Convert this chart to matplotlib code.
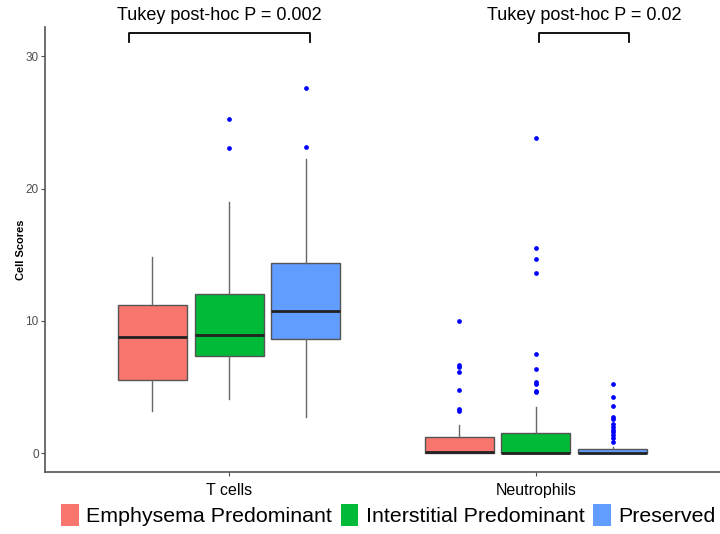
import matplotlib.pyplot as plt
from matplotlib.patches import Patch

plt.rcParams['font.family'] = ['Liberation Sans', 'DejaVu Sans']

# data (box stats per cell type / group)
cell_types = ["T cells", "Neutrophils"]
groups = ["Emphysema Predominant", "Interstitial Predominant", "Preserved"]
colors = ["#F8766D", "#00BA38", "#619CFF"]

# rows: T cells, Neutrophils; columns: groups
q1 = [[5.54, 7.38, 8.61], [0.0, 0.0, 0.0]]
median = [[8.79, 8.94, 10.78], [0.08, 0.05, 0.05]]
q3 = [[11.19, 12.06, 14.38], [1.26, 1.53, 0.33]]
whislo = [[3.22, 4.13, 2.74], [0.0, 0.0, 0.0]]
whishi = [[14.86, 19.02, 22.24], [2.11, 3.52, 0.45]]
fliers = [
    [[], [25.27, 23.03], [27.59, 23.15]],
    [[10.0, 6.67, 6.5, 6.14, 4.76, 3.32, 3.22],
     [23.8, 15.5, 14.7, 13.65, 7.5, 6.37, 5.37, 5.2, 4.73, 4.6],
     [5.26, 4.26, 3.6, 2.72, 2.6, 2.19, 2.0, 1.76, 1.6, 1.35, 1.13, 0.85]],
]

# significance brackets: (x_left, x_right, label)
brackets = [(0.674, 1.264, "Tukey post-hoc P = 0.002"),
            (2.011, 2.305, "Tukey post-hoc P = 0.02")]

fig = plt.figure(figsize=(7.2, 5.34), dpi=100)
ax = fig.add_axes([45 / 720, 1 - 472 / 534, (720 - 45) / 720, (472 - 27) / 534])

offsets = [-0.25, 0.0, 0.25]
for i, ct in enumerate(cell_types):
    for j, g in enumerate(groups):
        stats = [dict(med=median[i][j], q1=q1[i][j], q3=q3[i][j],
                      whislo=whislo[i][j], whishi=whishi[i][j],
                      fliers=fliers[i][j])]
        ax.bxp(stats, positions=[i + 1 + offsets[j]], widths=0.225,
               patch_artist=True, showcaps=False,
               boxprops=dict(facecolor=colors[j], edgecolor="#555555", linewidth=1),
               medianprops=dict(color="#222222", linewidth=2),
               whiskerprops=dict(color="#666666", linewidth=1),
               flierprops=dict(marker="o", markersize=2.4, markerfacecolor="blue",
                               markeredgecolor="blue", linestyle="none"))

ax.set_xlim(0.4, 2.6)
ax.set_ylim(-1.41, 32.2)
ax.set_xticks([1, 2])
ax.set_xticklabels(cell_types, fontsize=11.5, color="black")
ax.set_yticks([0, 10, 20, 30])
ax.set_yticklabels(["0", "10", "20", "30"], fontsize=8.5, color="#4D4D4D")
ax.tick_params(axis="both", length=3, width=0.8, color="#4D4D4D")
ax.tick_params(axis="y", pad=1.5)
ax.tick_params(axis="x", pad=5)
ax.set_ylabel("Cell Scores", fontsize=8, fontweight="bold", labelpad=0)
for s in ["top", "right"]:
    ax.spines[s].set_visible(False)
for s in ["left", "bottom"]:
    ax.spines[s].set_color("#555555")
    ax.spines[s].set_linewidth(1.2)

for xl, xr, label in brackets:
    ax.plot([xl, xl, xr, xr], [31.1, 31.77, 31.77, 31.1], color="black",
            linewidth=1.3, clip_on=False)
    ax.text((xl + xr) / 2, 33.1, label, ha="center", va="center",
            fontsize=13, clip_on=False)

handles = [Patch(facecolor=c, edgecolor="none") for c in colors]
fig.legend(handles, groups, loc="center", bbox_to_anchor=(388.5 / 720, 1 - 515 / 534),
           ncol=3, frameon=False, fontsize=15.4, handlelength=0.82, handleheight=1.25,
           handletextpad=0.35, columnspacing=0.4, borderpad=0)

fig.savefig("out.png", dpi=100)
